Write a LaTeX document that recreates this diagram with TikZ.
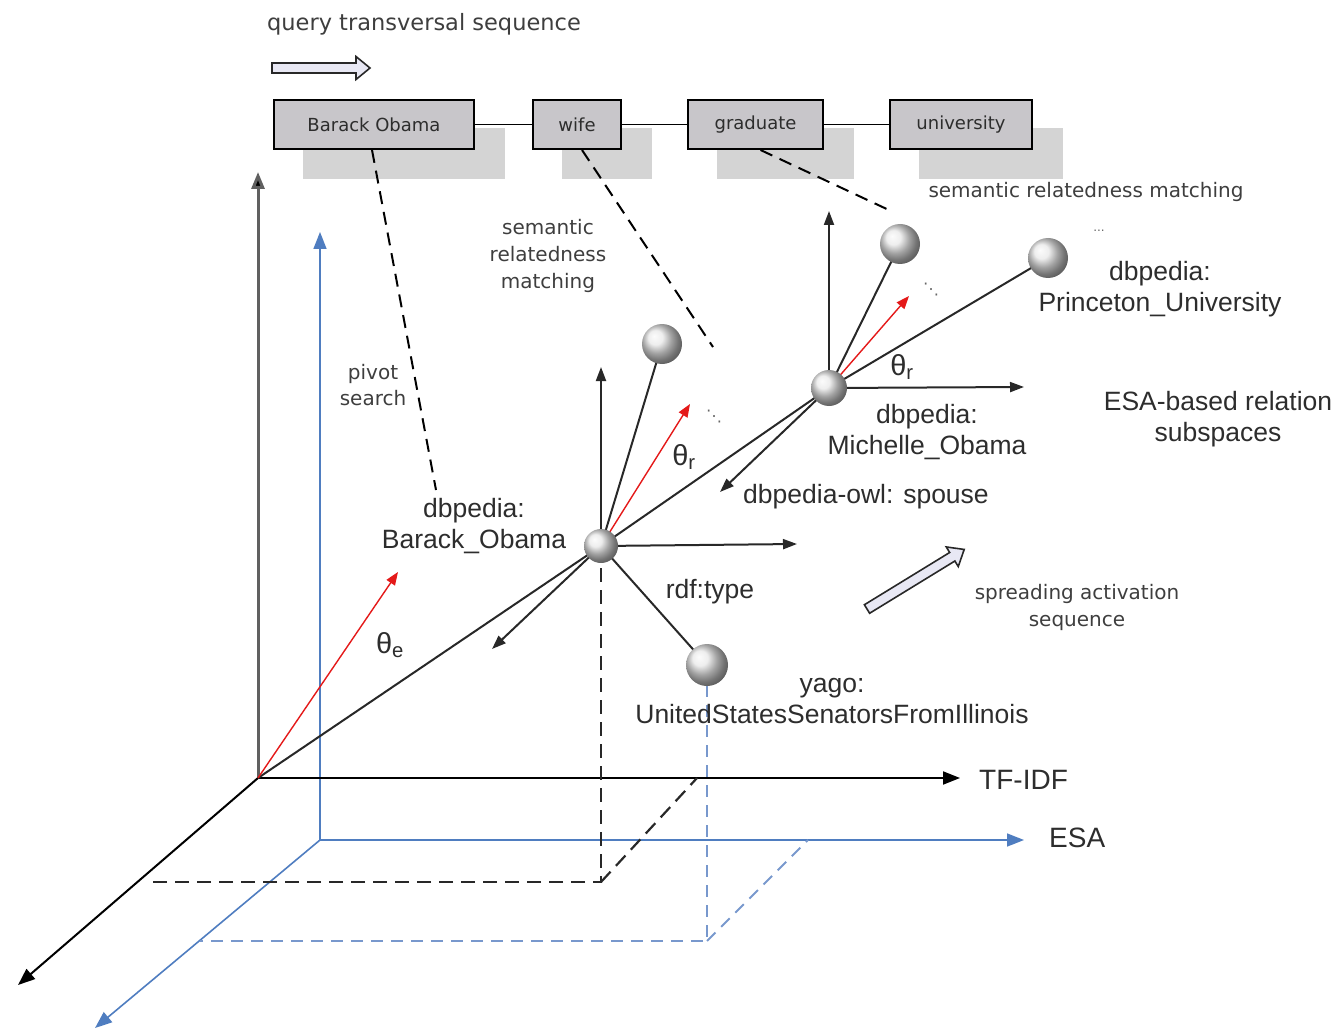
\documentclass[tikz,border=0pt]{standalone}
\usepackage{fontspec}
\setmainfont{Liberation Sans}
\newfontfamily\labelsans{DejaVu Sans}
\usetikzlibrary{arrows.meta,calc}
\pgfdeclarelayer{shadowlayer}
\pgfdeclarelayer{linelayer}
\pgfsetlayers{shadowlayer,linelayer,main}

\definecolor{boxgray}{RGB}{200,198,202}
\definecolor{shadowgray}{RGB}{212,212,212}
\definecolor{axisblue}{RGB}{79,125,192}
\definecolor{dashblue}{RGB}{120,152,205}
\definecolor{txt}{RGB}{45,45,45}
\definecolor{lbl}{RGB}{62,62,62}
\definecolor{vecred}{RGB}{228,25,25}
\definecolor{hollowfill}{RGB}{232,232,244}
\definecolor{linegray}{RGB}{40,40,40}

\begin{document}
\begin{tikzpicture}[x=1pt,y=-1pt,
  bigtxt/.style={font=\fontsize{26.5}{31}\selectfont, text=txt, align=center, inner sep=0},
  smalltxt/.style={font=\labelsans\fontsize{20}{27}\selectfont, text=lbl, align=center, inner sep=0},
  qbox/.style={draw=black, line width=2pt, fill=boxgray, minimum height=49pt, inner sep=0,
    font=\labelsans\fontsize{18}{20}\selectfont, text=txt},
  ballnode/.style={circle, inner sep=0, shading=ball, ball color=gray!18, minimum size=#1},
  ballnode/.default=36pt,
  mainaxis/.style={line width=2pt, draw=black, -{Triangle[length=17pt,width=13pt]}},
  blueaxis/.style={line width=1.6pt, draw=axisblue, -{Triangle[length=17pt,width=13pt]}},
  localaxis/.style={line width=2pt, draw=linegray, -{Triangle[length=14pt,width=10pt]}},
  link/.style={line width=2pt, draw=linegray},
  redvec/.style={line width=1.4pt, draw=vecred, -{Triangle[length=13pt,width=10pt]}},
  blackdash/.style={line width=2.2pt, draw=linegray, dash pattern=on 14pt off 8pt},
  bluedash/.style={line width=2pt, draw=dashblue, dash pattern=on 12pt off 8pt},
  matchdash/.style={line width=2pt, draw=black, dash pattern=on 13pt off 8pt},
  hollowarrow/.style={draw=linegray, line width=1.6pt, fill=hollowfill, line join=miter},
  dotstxt/.style={font=\labelsans\fontsize{16}{16}\selectfont, text=gray!80!black, inner sep=0}
]
\path[use as bounding box] (0,0) rectangle (1335,1032);

% ---------- query boxes ----------
\node[qbox, minimum width=200pt] (qb1) at (374,124.5) {Barack Obama};
\node[qbox, minimum width=88pt]  (qb2) at (577,124.5) {wife};
\node[qbox, minimum width=135pt] (qb3) at (755.5,124.5) {graduate};
\node[qbox, minimum width=142pt] (qb4) at (961,124.5) {university};

\begin{pgfonlayer}{shadowlayer}
  \foreach \n in {qb1,qb2,qb3,qb4}
    \fill[shadowgray] ([shift={(30,29)}]\n.south west) rectangle ([shift={(30,29)}]\n.north east);
\end{pgfonlayer}

\draw[line width=1.6pt] (qb1) -- (qb2);
\draw[line width=1.6pt] (qb2) -- (qb3);
\draw[line width=1.6pt] (qb3) -- (qb4);

% ---------- spheres ----------
\node[ballnode=34pt] (bo) at (601,546) {};
\node[ballnode=40pt] (bu) at (662,344) {};
\node[ballnode=42pt] (yg) at (707,665) {};
\node[ballnode=36pt] (mo) at (829,388) {};
\node[ballnode=40pt] (mu) at (900,244) {};
\node[ballnode=40pt] (pu) at (1048,258) {};

% ---------- reference points ----------
\coordinate (O) at (258,778);
\coordinate (Otop) at (258,172);
\coordinate (Oright) at (960,778);
\coordinate (Odl) at (18,985);
\coordinate (B) at (320,840);
\coordinate (Btop) at (320,232);
\coordinate (Bright) at (1024,840);
\coordinate (Bdl) at (95,1028);
\coordinate (boUp) at (601,367);
\coordinate (boRight) at (797,544);
\coordinate (boDL) at (492,649);
\coordinate (moUp) at (829,211);
\coordinate (moRight) at (1024,387);
\coordinate (moDL) at (720,492);
\coordinate (eTip) at (398,572);
\coordinate (rTip1) at (690,404);
\coordinate (rTip2) at (909,296);
\coordinate (dB1) at (601,882);
\coordinate (dB2) at (153,882);
\coordinate (dB3) at (697,778);
\coordinate (dC1) at (707,941);
\coordinate (dC2) at (200,941);
\coordinate (dC3) at (808,840);
\coordinate (pv) at (436,490);
\coordinate (sw) at (713,347);
\coordinate (sg) at (891,211);

\begin{pgfonlayer}{linelayer}
  % blue coordinate frame
  \draw[blueaxis] (B) -- (Btop);
  \draw[blueaxis] (B) -- (Bright);
  \draw[blueaxis] (B) -- (Bdl);
  % black coordinate frame
  \draw[line width=3pt, draw=gray!75!black, -{Triangle[length=17pt,width=13pt,fill=black]}] (O) -- (Otop);
  \draw[mainaxis] (O) -- (Oright);
  \draw[mainaxis] (O) -- (Odl);
  % projections
  \draw[blackdash] (bo.center) -- (dB1) -- (dB2);
  \draw[blackdash] (dB1) -- (dB3);
  \draw[bluedash] (yg.center) -- (dC1) -- (dC2);
  \draw[bluedash] (dC1) -- (dC3);
  % entity graph
  \draw[link] (O) -- (bo.center);
  \draw[link] (bo.center) -- (mo.center);
  \draw[link] (mo.center) -- (pu.center);
  \draw[link] (bo.center) -- (bu.center);
  \draw[link] (bo.center) -- (yg.center);
  \draw[link] (mo.center) -- (mu.center);
  % local relation subspaces
  \draw[localaxis] (bo.center) -- (boUp);
  \draw[localaxis] (bo.center) -- (boRight);
  \draw[localaxis] (bo.center) -- (boDL);
  \draw[localaxis] (mo.center) -- (moUp);
  \draw[localaxis] (mo.center) -- (moRight);
  \draw[localaxis] (mo.center) -- (moDL);
  % query vectors
  \draw[redvec] (O) -- (eTip);
  \draw[redvec] (bo.center) -- (rTip1);
  \draw[redvec] (mo.center) -- (rTip2);
  % matching links from the query
  \draw[matchdash] ([xshift=-2pt]qb1.south) -- (pv);
  \draw[matchdash] ([xshift=5pt]qb2.south) -- (sw);
  \draw[matchdash] ([xshift=5pt]qb3.south) -- (sg);
\end{pgfonlayer}

% ---------- hollow sequence arrows ----------
\begin{scope}[shift={(272,68)}]
  \draw[hollowarrow] (0,-5) -- (84,-5) -- (84,-11.5) -- (98,0) -- (84,11.5) -- (84,5) -- (0,5) -- cycle;
\end{scope}
\begin{scope}[shift={(867,609)}, rotate=31.5]
  \draw[hollowarrow] (0,-5) -- (100,-5) -- (100,-11.5) -- (114,0) -- (100,11.5) -- (100,5) -- (0,5) -- cycle;
\end{scope}

% ---------- labels ----------
\node[smalltxt, font=\labelsans\fontsize{22.5}{27}\selectfont] (lq) at (424,24) {query transversal sequence};
\node[smalltxt] (lsr1) at (1086,192) {semantic relatedness matching};
\node[smalltxt] (lsr2) at (548,256) {semantic\\relatedness\\matching};
\node[smalltxt, font=\labelsans\fontsize{20}{26}\selectfont] (lpv) at (373,385) {pivot\\search};
\node[smalltxt] (lsp) at (1077,607) {spreading activation\\sequence};

\node[bigtxt] (lbo) at (474,526) {dbpedia:\\Barack\_Obama};
\node[bigtxt] (lmo) at (927,432) {dbpedia:\\Michelle\_Obama};
\node[bigtxt] (lsp2) at (866,497) {dbpedia-owl: spouse};
\node[bigtxt] (lpu) at (1160,289) {dbpedia:\\Princeton\_University};
\node[bigtxt] (les) at (1218,419) {ESA-based relation\\subspaces};
\node[bigtxt] (lrt) at (710,592) {rdf:type};
\node[bigtxt] (lyg) at (832,701) {yago:\\UnitedStatesSenatorsFromIllinois};
\node[bigtxt, font=\fontsize{28}{30}\selectfont, anchor=west] (ltf) at (979,780) {TF-IDF};
\node[bigtxt, font=\fontsize{28}{30}\selectfont, anchor=west] (lesa) at (1049,838) {ESA};

\node[bigtxt, font=\fontsize{29}{30}\selectfont] (the) at (390,645) {θ\textsubscript{e}};
\node[bigtxt, font=\fontsize{29}{30}\selectfont] (thr1) at (684,457) {θ\textsubscript{r}};
\node[bigtxt, font=\fontsize{29}{30}\selectfont] (thr2) at (902,367) {θ\textsubscript{r}};

\node[dotstxt] (dt1) at (714,417) {⋱};
\node[dotstxt] (dt2) at (931,290) {⋱};
\node[dotstxt, font=\labelsans\fontsize{12}{12}\selectfont] (dt3) at (1099,231) {...};
\end{tikzpicture}
\end{document}
